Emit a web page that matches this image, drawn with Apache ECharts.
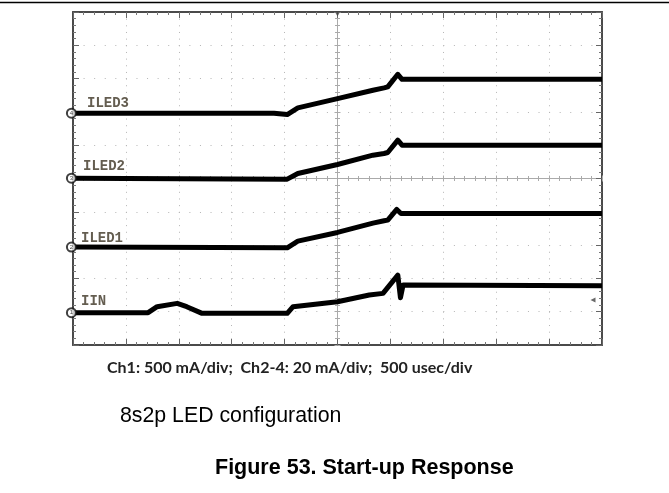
<!DOCTYPE html>
<html>
<head>
<meta charset="utf-8">
<script src="https://cdn.jsdelivr.net/npm/echarts@6/dist/echarts.min.js"></script>
<style>
html,body{margin:0;padding:0;background:#fff;}
#chart{width:669px;height:493px;}
</style>
</head>
<body>
<div id="chart"></div>
<script>
// ---- data (time in usec, level in screen divisions from bottom) ----
const channelNames = ['IIN', 'ILED1', 'ILED2', 'ILED3'];
const channelNumbers = ['1', '2', '3', '4'];

const iinTime  = [0, 710, 795, 985, 1075, 1220, 2025, 2080, 2500, 2800, 2815, 2930, 3070, 3095, 3120, 5000];
const iinLevel = [0.97, 0.97, 1.15, 1.25, 1.15, 0.95, 0.95, 1.15, 1.30, 1.50, 1.55, 1.55, 2.10, 1.42, 1.80, 1.78];

const iled1Time  = [0, 2025, 2125, 2500, 2835, 2940, 2975, 3060, 3100, 5000];
const iled1Level = [2.94, 2.92, 3.12, 3.38, 3.66, 3.73, 3.75, 4.07, 3.95, 3.95];

const iled2Time  = [0, 2025, 2125, 2500, 2835, 2940, 2975, 3070, 3110, 5000];
const iled2Level = [5.01, 4.98, 5.15, 5.42, 5.70, 5.75, 5.78, 6.15, 6.00, 6.00];

const iled3Time  = [0, 1900, 2025, 2125, 2500, 2835, 2940, 2975, 3070, 3110, 5000];
const iled3Level = [6.96, 6.96, 6.92, 7.12, 7.40, 7.65, 7.72, 7.75, 8.13, 7.98, 7.98];

const triggerTime = 2500;
const triggerLevel = 1.35;

const scaleNote = 'Ch1: 500 mA/div;  Ch2-4: 20 mA/div;  500 usec/div';
const configNote = '8s2p LED configuration';
const figureCaption = 'Figure 53. Start-up Response';

// ---- build ----
const traces = [
  [iinTime, iinLevel],
  [iled1Time, iled1Level],
  [iled2Time, iled2Level],
  [iled3Time, iled3Level]
];
const labelOffsets = [[3, -11], [3, -8.5], [5, -11.5], [9, -9.5]];

const chart = echarts.init(document.getElementById('chart'), null, {renderer: 'canvas'});

const frameAxisCommon = {
  axisLine: {show: true, onZero: false, lineStyle: {color: '#4a4a4a', width: 2}},
  axisTick: {show: true, inside: true, length: 6, lineStyle: {color: '#666', width: 1}},
  minorTick: {show: true, splitNumber: 5, length: 3, lineStyle: {color: '#777', width: 1}},
  axisLabel: {show: false},
  splitLine: {show: false}
};
const centerAxisCommon = {
  min: -5, max: 5, interval: 1,
  axisLine: {show: true, onZero: true, lineStyle: {color: '#aaa', width: 1}},
  axisTick: {show: true, inside: false, length: 3, lineStyle: {color: '#aaa'}},
  minorTick: {show: true, splitNumber: 5, length: 2.5, lineStyle: {color: '#aaa'}},
  axisLabel: {show: false},
  splitLine: {show: false}
};

const series = [];
traces.forEach((t, i) => {
  series.push({
    type: 'line',
    name: channelNames[i],
    xAxisIndex: 0, yAxisIndex: 0,
    data: t[0].map((x, k) => [x, t[1][k]]),
    showSymbol: false,
    lineStyle: {color: '#000', width: 5, join: 'round'},
    animation: false,
    z: 5
  });
  series.push({
    type: 'scatter',
    xAxisIndex: 0, yAxisIndex: 0,
    data: [[t[0][0], t[1][0]]],
    symbolSize: 0,
    silent: true,
    animation: false,
    label: {
      show: true, position: 'right', distance: 5,
      offset: labelOffsets[i],
      formatter: channelNames[i],
      fontFamily: 'Liberation Mono', fontWeight: 'bold', fontSize: 14,
      color: '#3d3424'
    },
    z: 6
  });
  series.push({
    type: 'scatter',
    xAxisIndex: 0, yAxisIndex: 0,
    data: [[t[0][0] - 15, t[1][0]]],
    symbol: 'circle',
    symbolSize: 9,
    clip: false,
    silent: true,
    animation: false,
    itemStyle: {color: '#fff', borderColor: '#111', borderWidth: 2},
    label: {show: true, position: 'inside', formatter: channelNumbers[i], fontSize: 6, color: '#111'},
    z: 7
  });
});
series.push({
  type: 'scatter', xAxisIndex: 0, yAxisIndex: 0,
  data: [[triggerTime, 9.95]], symbol: 'triangle', symbolRotate: 180, symbolSize: [6, 5],
  itemStyle: {color: '#444'}, clip: false, silent: true, animation: false, z: 8
});
series.push({
  type: 'scatter', xAxisIndex: 0, yAxisIndex: 0,
  data: [[4915, triggerLevel]], symbol: 'triangle', symbolRotate: 90, symbolSize: [5, 5],
  itemStyle: {color: '#444'}, clip: false, silent: true, animation: false, z: 8
});

const option = {
  backgroundColor: '#fff',
  animation: false,
  title: [
    {text: scaleNote, left: 107, top: 360, padding: 0,
     textStyle: {fontFamily: 'Lato', fontWeight: 'bold', fontSize: 16, color: '#222'}},
    {text: configNote, left: 120, top: 406, padding: 0,
     textStyle: {fontFamily: 'Liberation Sans', fontWeight: 'normal', fontSize: 21.3, color: '#000'}},
    {text: figureCaption, left: 215, top: 457, padding: 0,
     textStyle: {fontFamily: 'Liberation Sans', fontWeight: 'bold', fontSize: 21.5, color: '#000'}}
  ],
  grid: [
    {left: 73, top: 12, width: 529, height: 333, containLabel: false},
    {left: 73, top: 12, width: 529, height: 333, containLabel: false}
  ],
  xAxis: [
    Object.assign({}, frameAxisCommon, {
      type: 'value', gridIndex: 0, position: 'bottom', min: 0, max: 5000, interval: 500,
      splitLine: {show: true, lineStyle: {color: '#b5b5b5', width: 1, type: [1, 5.66]}}
    }),
    Object.assign({}, frameAxisCommon, {type: 'value', gridIndex: 0, position: 'top', min: 0, max: 5000, interval: 500}),
    Object.assign({}, centerAxisCommon, {type: 'value', gridIndex: 1, position: 'bottom'}),
    Object.assign({}, centerAxisCommon, {type: 'value', gridIndex: 1, position: 'top'})
  ],
  yAxis: [
    Object.assign({}, frameAxisCommon, {
      type: 'value', gridIndex: 0, position: 'left', min: 0, max: 10, interval: 1,
      splitLine: {show: true, lineStyle: {color: '#b5b5b5', width: 1, type: [1, 9.58]}}
    }),
    Object.assign({}, frameAxisCommon, {type: 'value', gridIndex: 0, position: 'right', min: 0, max: 10, interval: 1}),
    Object.assign({}, centerAxisCommon, {type: 'value', gridIndex: 1, position: 'left'}),
    Object.assign({}, centerAxisCommon, {type: 'value', gridIndex: 1, position: 'right'})
  ],
  graphic: [
    {type: 'line', shape: {x1: 0, y1: 2.5, x2: 669, y2: 2.5}, style: {stroke: '#000', lineWidth: 1.5}, silent: true}
  ],
  series: series
};
chart.setOption(option);
</script>
</body>
</html>
